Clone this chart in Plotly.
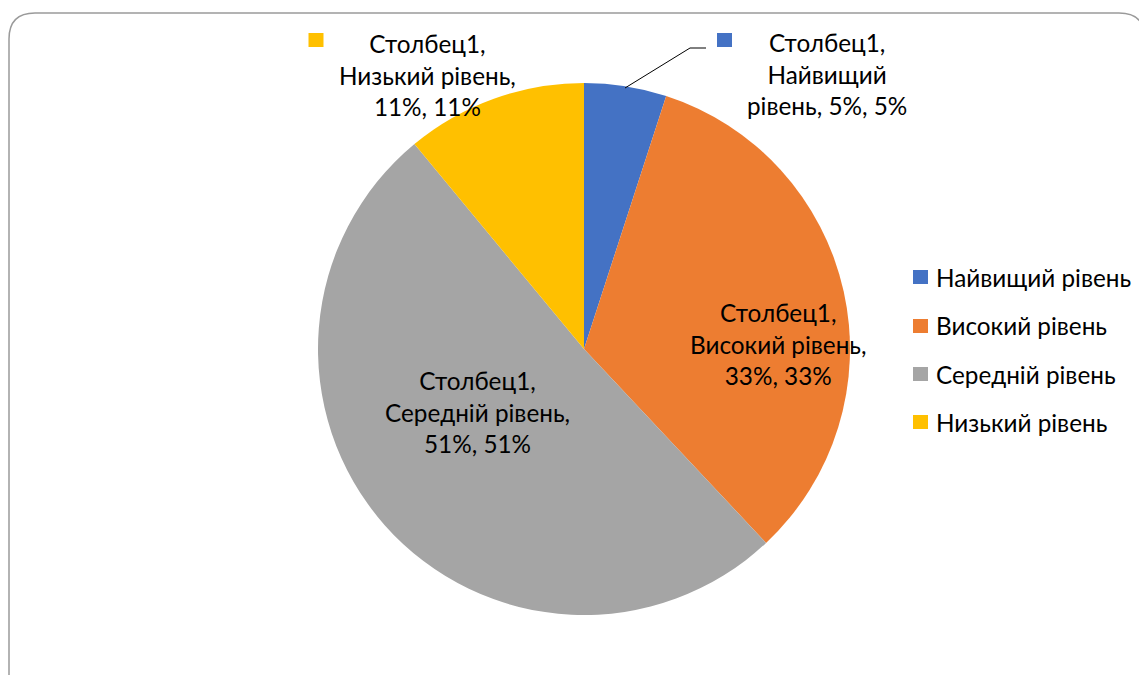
import plotly.graph_objects as go

categories = ["Найвищий рівень", "Високий рівень", "Середній рівень", "Низький рівень"]
values = [5, 33, 51, 11]
series_name = "Столбец1"
colors = ["#4472C4", "#ED7D31", "#A5A5A5", "#FFC000"]

# the page body has an 8px margin, so the figure starts at (8, 8) in the window
OFF = 8
W, H = 1147 - OFF, 675 - OFF
FONT = "Lato, Carlito, Calibri, 'Noto Sans', sans-serif"

def px(x):
    return (x - OFF) / W

def py(y):
    return 1 - (y - OFF) / H

fig = go.Figure()
fig.add_trace(go.Pie(
    labels=categories,
    values=values,
    marker=dict(colors=colors, line=dict(color="white", width=0)),
    sort=False,
    direction="clockwise",
    rotation=0,
    textinfo="none",
    hoverinfo="label+value+percent",
    showlegend=False,
    domain=dict(x=[px(318), px(850)], y=[py(615), py(83)]),
))

# data label text positions (pixels in window)
label_pos = {
    0: (827, 74),
    1: (778, 344),
    2: (478, 412),
    3: (427, 75),
}
label_lines = {
    0: [f"{series_name},", categories[0].split()[0], f"{categories[0].split()[1]}, {values[0]}%, {values[0]}%"],
    1: [f"{series_name},", f"{categories[1]},", f"{values[1]}%, {values[1]}%"],
    2: [f"{series_name},", f"{categories[2]},", f"{values[2]}%, {values[2]}%"],
    3: [f"{series_name},", f"{categories[3]},", f"{values[3]}%, {values[3]}%"],
}
annotations = []
for i, (x, y) in label_pos.items():
    annotations.append(dict(
        x=px(x), y=py(y), xref="paper", yref="paper",
        text="<br>".join(label_lines[i]), showarrow=False,
        font=dict(family=FONT, size=24.3, color="#000000"),
        align="center", xanchor="center", yanchor="middle",
    ))

shapes = []
# legend-key squares beside outside labels
for i, (sx, sy) in {0: (724.5, 40), 3: (316, 40)}.items():
    shapes.append(dict(type="rect", xref="paper", yref="paper",
                       x0=px(sx - 7.5), x1=px(sx + 7.5), y0=py(sy + 7), y1=py(sy - 7),
                       fillcolor=colors[i], line=dict(width=0)))

# leader line for the smallest slice
shapes.append(dict(type="path", xref="paper", yref="paper",
                   path=f"M {px(625)} {py(88)} L {px(690)} {py(48)} L {px(706)} {py(48)}",
                   line=dict(color="#000000", width=1)))

# manual legend
leg_y = [277, 326, 374, 422]
for i, cat in enumerate(categories):
    shapes.append(dict(type="rect", xref="paper", yref="paper",
                       x0=px(913), x1=px(928), y0=py(leg_y[i] + 7), y1=py(leg_y[i] - 7),
                       fillcolor=colors[i], line=dict(width=0)))
    annotations.append(dict(
        x=px(934), y=py(leg_y[i]), xref="paper", yref="paper",
        text=cat, showarrow=False, xanchor="left", yanchor="middle",
        font=dict(family=FONT, size=24.3, color="#000000"),
    ))

# chart area border (rounded rectangle)
x0, y0, x1, y1, r = 9, 13, 1145, 700, 26
border = (f"M {px(x0 + r)} {py(y0)} L {px(x1 - r)} {py(y0)} "
          f"Q {px(x1)} {py(y0)} {px(x1)} {py(y0 + r)} "
          f"L {px(x1)} {py(y1 - r)} Q {px(x1)} {py(y1)} {px(x1 - r)} {py(y1)} "
          f"L {px(x0 + r)} {py(y1)} Q {px(x0)} {py(y1)} {px(x0)} {py(y1 - r)} "
          f"L {px(x0)} {py(y0 + r)} Q {px(x0)} {py(y0)} {px(x0 + r)} {py(y0)} Z")
shapes.append(dict(type="path", xref="paper", yref="paper", path=border,
                   line=dict(color="#9a9a9a", width=1.5), layer="below"))

fig.update_layout(
    width=W, height=H,
    margin=dict(l=0, r=0, t=0, b=0),
    paper_bgcolor="white", plot_bgcolor="white",
    annotations=annotations, shapes=shapes,
    font=dict(family=FONT),
)

fig.write_html("out.html")
